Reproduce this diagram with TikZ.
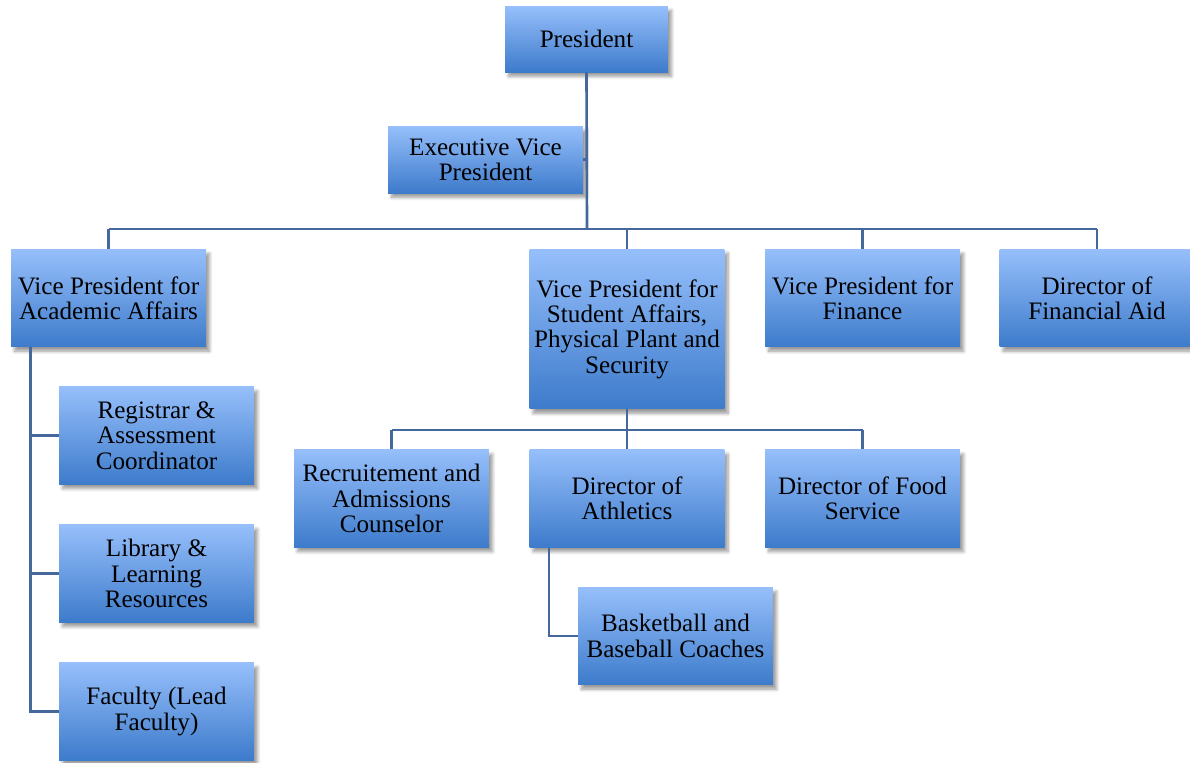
\documentclass[tikz,border=0pt]{standalone}
\usepackage{fontspec}
\setmainfont{Liberation Serif}
\usetikzlibrary{shadows.blur}
\definecolor{boxtop}{HTML}{96BFFB}
\definecolor{boxbot}{HTML}{3D7BCB}
\definecolor{linkblue}{HTML}{44689B}
\begin{document}
\begin{tikzpicture}[
				x=0.02cm, y=-0.02cm,
				every node/.style={rectangle, top color=boxtop, bottom color=boxbot, align=center, inner sep=2pt,
					font=\fontsize{14.3}{14.4}\selectfont,
					blur shadow={shadow xshift=2pt, shadow yshift=-2.5pt, shadow blur steps=6, shadow opacity=40}},
				post/.style={minimum width=3.9cm, minimum height=1.95cm},
				link/.style={draw=linkblue, line width=1.5pt},
			]
			\useasboundingbox (0,0) rectangle (1190,762);
			% top
			\node[minimum width=3.26cm, minimum height=1.32cm] (pres) at (586.5,39) {President};
			\node[minimum width=3.9cm, minimum height=1.34cm] (evp) at (485.5,159.5) {Executive Vice\\President};
			% vice presidents
			\node[post] (vpaa) at (108.5,298) {Vice President for\\Academic Affairs};
			\node[post, minimum height=3.2cm] (vpsa) at (627,329) {Vice President for\\Student Affairs,\\Physical Plant and\\Security};
			\node[post] (vpf) at (862.5,298) {Vice President for\\Finance};
			\node[post] (dfa) at (1097,298) {Director of\\Financial Aid};
			% academic affairs
			\node[post] (reg) at (156.5,435.5) {Registrar \&\\Assessment\\Coordinator};
			\node[post] (lib) at (156.5,573.5) {Library \&\\Learning\\Resources};
			\node[post] (fac) at (156.5,711.5) {Faculty (Lead\\Faculty)};
			% student affairs
			\node[post] (rec) at (391.5,498.5) {Recruitement and\\Admissions\\Counselor};
			\node[post] (ath) at (627,498.5) {Director of\\Athletics};
			\node[post] (food) at (862.5,498.5) {Director of Food\\Service};
			\node[post] (ball) at (675.5,636) {Basketball and\\Baseball Coaches};
			\coordinate (bus1) at (587,229);
			\coordinate (bus2) at (627,430);
			\draw[link] (pres.south) -- (bus1);
			\draw[link] (evp.east) -- (evp.east -| bus1);
			\draw[link] (vpaa.north |- bus1) -- (dfa.north |- bus1);
			\foreach \n in {vpaa,vpsa,vpf,dfa}
				\draw[link] (\n.north) -- (\n.north |- bus1);
			\draw[link] (vpsa.south) -- (bus2);
			\draw[link] (rec.north |- bus2) -- (food.north |- bus2);
			\foreach \n in {rec,ath,food}
				\draw[link] (\n.north) -- (\n.north |- bus2);
			\foreach \n in {reg,lib,fac}
				\draw[link] ([xshift=0.4cm]vpaa.south west) |- (\n.west);
			\draw[link] ([xshift=0.4cm]ath.south west) |- (ball.west);
			\end{tikzpicture}
\end{document}
